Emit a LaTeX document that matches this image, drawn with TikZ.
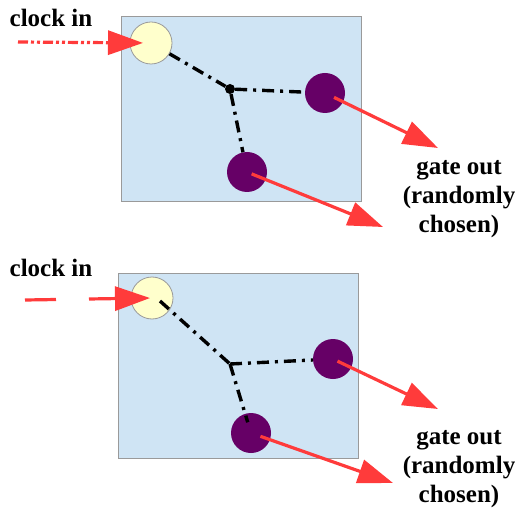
\documentclass[tikz,border=0pt]{standalone}
\usepackage{fontspec}
\setmainfont{Liberation Serif}
\newfontfamily\lblfont{Liberation Serif}[BoldFont={Liberation Serif Bold}]
\usetikzlibrary{arrows.meta}

\definecolor{boxblue}{HTML}{CFE4F4}
\definecolor{boxedge}{HTML}{9A9A9A}
\definecolor{cream}{HTML}{FFFFCC}
\definecolor{plum}{HTML}{660066}
\definecolor{signal}{HTML}{FF3B3B}

\tikzset{
  panel/.style={draw=boxedge, fill=boxblue, line width=0.8pt, minimum width=240pt, minimum height=185pt, inner sep=0pt},
  clock/.style={circle, draw=boxedge, fill=cream, line width=0.8pt, minimum size=42pt, inner sep=0pt},
  gate/.style={circle, fill=plum, minimum size=40pt, inner sep=0pt},
  hub/.style={circle, fill=black, minimum size=10pt, inner sep=0pt},
  wire/.style={line width=3.4pt, dash pattern=on 12pt off 6pt on 3pt off 6pt},
  redarrow/.style={signal, line width=3.2pt, -{Triangle[length=35pt,width=24pt]}},
  lbl/.style={font=\lblfont\bfseries\fontsize{25}{29}\selectfont, align=center, inner sep=0pt}
}

\begin{document}
\begin{tikzpicture}[x=1pt, y=-1pt]
  \useasboundingbox (0,0) rectangle (518,510);

  % upper panel
  \node[panel] (boxA) at (241,108.5) {};
  \node[clock] (clkA) at (151,43) {};
  \node[hub] (hubA) at (230,89) {};
  \node[gate] (gateA1) at (325,93) {};
  \node[gate] (gateA2) at (247,172) {};
  \node[lbl] (inlblA) at (51,18) {clock in};
  \node[lbl] (outlblA) at (459,199) {gate out\\(randomly\\chosen)};
  \coordinate (inA) at (18,42);
  \coordinate (outA1) at (438,148);
  \coordinate (outA2) at (383,227);

  \draw[wire] (clkA) -- (hubA); \draw[wire] (hubA) -- (gateA1); \draw[wire] (hubA) -- (gateA2);
  \draw[redarrow, dash pattern=on 10pt off 3pt on 3pt off 3pt on 3pt off 3pt, shorten >=8pt] (inA) -- (clkA.center);
  \draw[redarrow, shorten <=10pt] (gateA1.center) -- (outA1);
  \draw[redarrow, shorten <=5pt] (gateA2.center) -- (outA2);

  % lower panel
  \node[panel] (boxB) at (238.5,365.5) {};
  \node[clock] (clkB) at (152,298) {};
  \coordinate (hubB) at (230,364);
  \node[gate] (gateB1) at (333,359) {};
  \node[gate] (gateB2) at (251,433) {};
  \node[lbl] (inlblB) at (51,268) {clock in};
  \node[lbl] (outlblB) at (459,469) {gate out\\(randomly\\chosen)};
  \coordinate (inB) at (25,300);
  \coordinate (outB1) at (438,409);
  \coordinate (outB2) at (393,483);

  \draw[wire] (clkB.center) ++(8,3) -- (hubB); \draw[wire] (hubB) -- (gateB1); \draw[wire, shorten >=-9pt] (hubB) -- (gateB2);
  \draw[redarrow, dash pattern=on 31pt off 33pt, shorten >=2pt] (inB) -- (clkB.center);
  \draw[redarrow, shorten <=5pt] (gateB1.center) -- (outB1);
  \draw[redarrow, shorten <=10pt] (gateB2.center) -- (outB2);
\end{tikzpicture}
\end{document}
